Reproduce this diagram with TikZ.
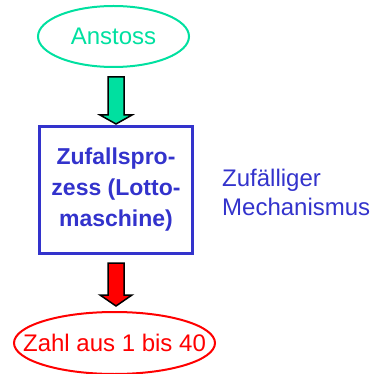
\documentclass[tikz,border=0pt]{standalone}
\usepackage{fontspec}
\setmainfont{Liberation Sans}
\usetikzlibrary{calc,shapes.geometric}
\definecolor{tgreen}{HTML}{00E0A0}
\definecolor{tblue}{HTML}{3333CC}
\definecolor{tred}{HTML}{FF0000}
\tikzset{
  oval/.style={ellipse, draw=#1, line width=2pt, text=#1, inner sep=0pt,
    font=\fontsize{24}{28}\selectfont},
  procbox/.style={draw=tblue, line width=3pt, text=tblue, align=center,
    minimum width=153pt, minimum height=127pt, inner sep=0pt,
    font=\fontsize{23}{31}\selectfont\bfseries},
  sidelabel/.style={text=tblue, align=left, inner sep=0pt,
    font=\fontsize{24}{29}\selectfont},
  blockarrow/.style={fill=#1, draw=black, line width=1.5pt, line join=miter}
}
\begin{document}
\begin{tikzpicture}[x=1pt,y=-1pt]
\useasboundingbox (0,0) rectangle (377,374);
\node[oval=tgreen, minimum width=151pt, minimum height=61pt] (top) at (113.5,36.5) {\makebox[0pt]{Anstoss}};
\node[procbox] (box) at (116,190) {Zufallspro-\\zess (Lotto-\\maschine)};
\node[sidelabel, anchor=west] (side) at (222,192.5) {Zufälliger\\Mechanismus};
\node[oval=tred, minimum width=201pt, minimum height=62pt] (res) at (114.5,343) {\makebox[0pt]{Zahl aus 1 bis 40}};
\draw[blockarrow=tgreen] let \p1=(top.south), \p2=(box.north) in
  (\x2-8pt,\y1-9pt) -- (\x2+8pt,\y1-9pt) -- (\x2+8pt,\y2+10pt) -- (\x2+16pt,\y2+10pt)
  -- (\x2,\y2+1pt) -- (\x2-16pt,\y2+10pt) -- (\x2-8pt,\y2+10pt) -- cycle;
\draw[blockarrow=tred] let \p1=(box.south), \p2=(res.north) in
  (\x1-8pt,\y1-8pt) -- (\x1+8pt,\y1-8pt) -- (\x1+8pt,\y2+16pt) -- (\x1+16pt,\y2+16pt)
  -- (\x1,\y2+5pt) -- (\x1-16pt,\y2+16pt) -- (\x1-8pt,\y2+16pt) -- cycle;
\end{tikzpicture}
\end{document}
